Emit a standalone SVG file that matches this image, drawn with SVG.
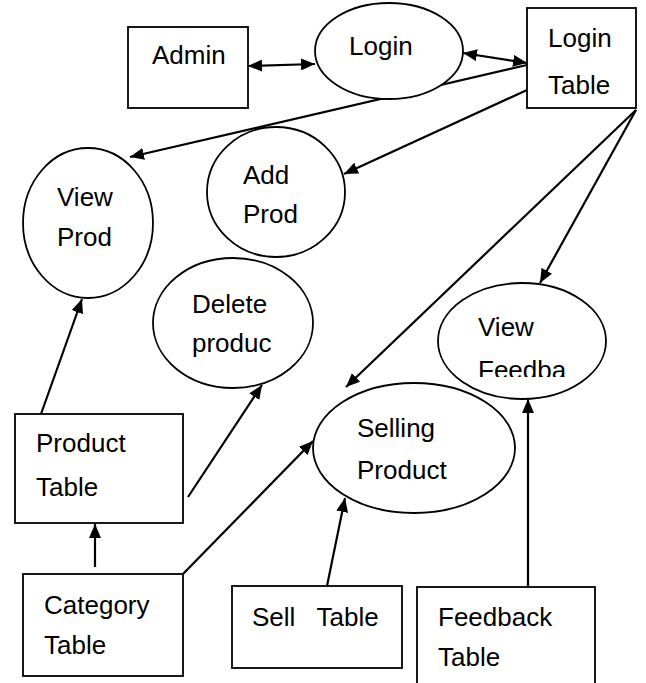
<svg xmlns="http://www.w3.org/2000/svg" width="646" height="683" viewBox="0 0 646 683">
<style>
.shape{fill:#fff;stroke:#000;stroke-width:1.8}
.t{font-family:"Liberation Sans",Arial,sans-serif;font-size:26px;fill:#000}
.c{stroke:#000;stroke-width:2.2;fill:none}
.a{marker-end:url(#ah)}
.b{marker-start:url(#ah);marker-end:url(#ah)}
</style>
<defs>
<marker id="ah" viewBox="0 0 14 12" refX="14" refY="6" markerWidth="14" markerHeight="12" markerUnits="userSpaceOnUse" orient="auto-start-reverse">
<path d="M0,0 L14,6 L0,12 z" fill="#000"/>
</marker>
<clipPath id="fbclip"><rect x="430" y="280" width="180" height="97"/></clipPath>
</defs>
<rect width="646" height="683" fill="#fff"/>
<g id="connectors">
<line class="c b" x1="248" y1="66" x2="315" y2="64"/>
<line class="c b" x1="463" y1="53" x2="527" y2="63"/>
<line class="c a" x1="527" y1="65" x2="130" y2="157"/>
<line class="c a" x1="527" y1="90" x2="344" y2="174"/>
<line class="c a" x1="636" y1="110" x2="540" y2="283"/>
<line class="c a" x1="636" y1="110" x2="346" y2="387"/>
<line class="c a" x1="41" y1="414" x2="82" y2="299"/>
<line class="c a" x1="188" y1="497" x2="262" y2="385"/>
<line class="c a" x1="95" y1="567" x2="95" y2="524"/>
<line class="c a" x1="183" y1="574" x2="313" y2="441"/>
<line class="c a" x1="327" y1="586" x2="345" y2="498"/>
<line class="c a" x1="528" y1="587" x2="528" y2="399"/>
</g>
<g id="admin">
<rect class="shape" x="128" y="27" width="120" height="81"/>
<text class="t" x="152" y="64">Admin</text>
</g>
<g id="login">
<ellipse class="shape" cx="389" cy="51" rx="74" ry="48"/>
<text class="t" x="349" y="55">Login</text>
</g>
<g id="login-table">
<rect class="shape" x="527" y="8" width="109" height="100"/>
<text class="t" x="548" y="47">Login</text>
<text class="t" x="548" y="94">Table</text>
</g>
<g id="view-prod">
<ellipse class="shape" cx="88" cy="223" rx="65" ry="75"/>
<text class="t" x="57" y="206">View</text>
<text class="t" x="57" y="246">Prod</text>
</g>
<g id="add-prod">
<ellipse class="shape" cx="276" cy="192" rx="69" ry="65"/>
<text class="t" x="243" y="184">Add</text>
<text class="t" x="243" y="223">Prod</text>
</g>
<g id="delete-product">
<ellipse class="shape" cx="233" cy="323" rx="80" ry="65"/>
<text class="t" x="192" y="313">Delete</text>
<text class="t" x="192" y="352">produc</text>
</g>
<g id="view-feedback">
<ellipse class="shape" cx="522" cy="341" rx="84" ry="58"/>
<text class="t" x="478" y="336">View</text>
<text class="t" x="478" y="379" clip-path="url(#fbclip)">Feedba</text>
</g>
<g id="selling-product">
<ellipse class="shape" cx="414" cy="448" rx="101" ry="65"/>
<text class="t" x="357" y="437">Selling</text>
<text class="t" x="357" y="479">Product</text>
</g>
<g id="product-table">
<rect class="shape" x="15" y="414" width="168" height="109"/>
<text class="t" x="36" y="452">Product</text>
<text class="t" x="36" y="496">Table</text>
</g>
<g id="category-table">
<rect class="shape" x="23" y="574" width="160" height="102"/>
<text class="t" x="44" y="614">Category</text>
<text class="t" x="44" y="654">Table</text>
</g>
<g id="sell-table">
<rect class="shape" x="232" y="586" width="170" height="82"/>
<text class="t" x="252" y="626" xml:space="preserve">Sell   Table</text>
</g>
<g id="feedback-table">
<rect class="shape" x="417" y="587" width="178" height="110"/>
<text class="t" x="438" y="626">Feedback</text>
<text class="t" x="438" y="666">Table</text>
</g>
</svg>
